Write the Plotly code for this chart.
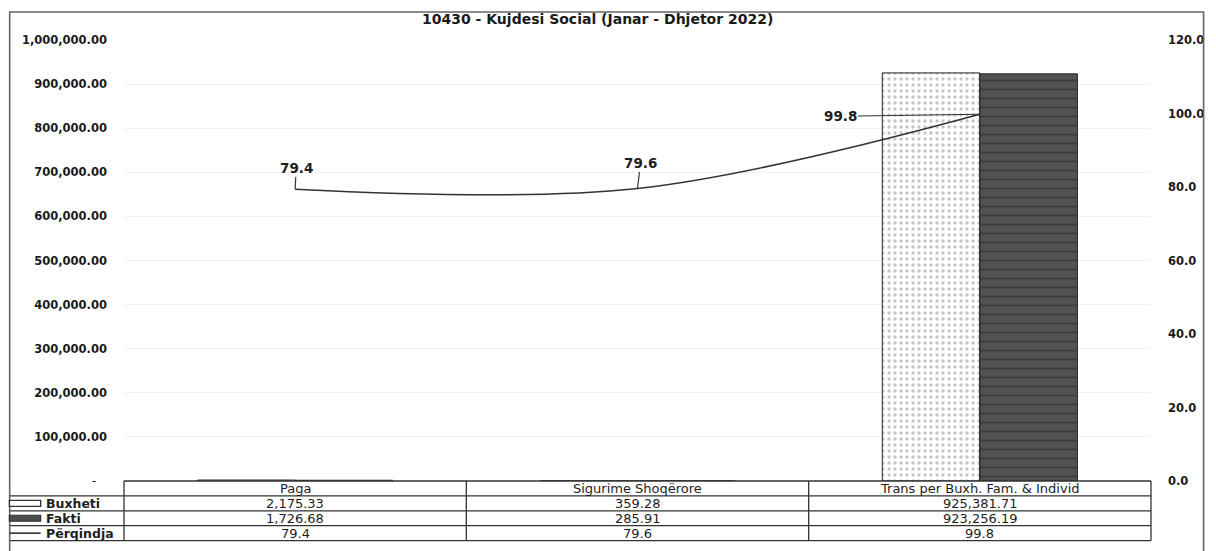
import plotly.graph_objects as go

# ---------------- data ----------------
categories = ["Paga", "Sigurime Shoqërore", "Trans per Buxh. Fam. & Individ"]
buxheti = [2175.33, 359.28, 925381.71]
fakti = [1726.68, 285.91, 923256.19]
perqindja = [79.4, 79.6, 99.8]
series_names = ["Buxheti", "Fakti", "Përqindja"]
left_ticks = [0, 100000, 200000, 300000, 400000, 500000, 600000, 700000, 800000, 900000, 1000000]
right_ticks = [0, 20, 40, 60, 80, 100, 120]
title_text = "10430 - Kujdesi Social (Janar - Dhjetor 2022)"

# ---------------- layout geometry (page body has an 8px margin) ----------------
FIG_W, FIG_H = 1208, 543
M_L, M_R, M_T, M_B = 116, 57, 32, 70
W = FIG_W - M_L - M_R
H = FIG_H - M_T - M_B
ROW_PX = 14.9
ry = ROW_PX / H


def px_x(px):
    return (px - M_L) / W


def px_y(py):
    return (FIG_H - M_B - py) / H


FONT = "DejaVu Sans"
TABLE_FONT = "DejaVu Sans"
LINE_COLOR = "#333333"
TXT = "#1e1e1e"

fig = go.Figure()

fig.add_trace(go.Bar(
    x=categories, y=buxheti, name=series_names[0],
    marker=dict(color="white", line=dict(color="#222222", width=1),
                pattern=dict(shape=".", fgcolor="#8a8a8a", bgcolor="white", size=6, solidity=0.25)),
    hoverinfo="skip",
))
fig.add_trace(go.Bar(
    x=categories, y=fakti, name=series_names[1],
    marker=dict(color="#4d4d4d", line=dict(color="#222222", width=1),
                pattern=dict(shape="-", fgcolor="#262626", bgcolor="#525252", size=9, solidity=0.2)),
    hoverinfo="skip",
))
fig.add_trace(go.Scatter(
    x=categories, y=perqindja, name=series_names[2], yaxis="y2",
    mode="lines", line=dict(color=LINE_COLOR, width=1.6, shape="spline", smoothing=1.0),
    hoverinfo="skip",
))

# data labels with leader lines
label_offsets = [(1, -21), (3, -25), (-139, 2)]
annotations = []
for c, v, (ax, ay) in zip(categories, perqindja, label_offsets):
    annotations.append(dict(
        x=c, y=v, xref="x", yref="y2", text=f"<b>{v:.1f}</b>",
        showarrow=True, arrowhead=0, arrowwidth=1.2, arrowcolor=LINE_COLOR,
        ax=ax, ay=ay, font=dict(family=FONT, size=13.5, color=TXT),
        standoff=0, borderpad=0,
    ))

# title
annotations.append(dict(
    x=px_x(593), y=px_y(11), xref="paper", yref="paper", text=f"<b>{title_text}</b>",
    showarrow=False, font=dict(family=FONT, size=14, color="#1a1a1a"),
    xanchor="center", yanchor="middle",
))

shapes = []
n = len(categories)
table_rows = 4
for r in range(table_rows + 1):
    y = -r * ry
    x0 = 0 if r == 0 else px_x(0)
    shapes.append(dict(type="line", xref="paper", yref="paper", x0=x0, x1=1, y0=y, y1=y,
                       line=dict(color="#333333", width=1.3)))
shapes.append(dict(type="line", xref="paper", yref="paper", x0=0, x1=0, y0=0, y1=-table_rows * ry,
                   line=dict(color="#333333", width=1.3)))
shapes.append(dict(type="line", xref="paper", yref="paper", x0=1, x1=1, y0=0, y1=-table_rows * ry,
                   line=dict(color="#333333", width=1.3)))
for i in range(1, n):
    xb = i / n
    shapes.append(dict(type="line", xref="paper", yref="paper", x0=xb, x1=xb, y0=0, y1=-table_rows * ry,
                       line=dict(color="#333333", width=1.3)))

# outer chart border
shapes.append(dict(type="rect", xref="paper", yref="paper", x0=px_x(0.8), x1=px_x(1204),
                   y0=px_y(4), y1=px_y(600), line=dict(color="#666666", width=1.6),
                   fillcolor="rgba(0,0,0,0)", layer="above"))

# table header + values
rows = [buxheti, fakti, perqindja]
fmts = ["{:,.2f}", "{:,.2f}", "{:.1f}"]
for i, c in enumerate(categories):
    xc = (i + 0.5) / n
    annotations.append(dict(x=xc, y=-0.5 * ry, xref="paper", yref="paper", text=c, showarrow=False,
                            font=dict(family=TABLE_FONT, size=13, color=TXT),
                            xanchor="center", yanchor="middle"))
    for r, (vals, f) in enumerate(zip(rows, fmts)):
        annotations.append(dict(x=xc, y=-(r + 1.5) * ry, xref="paper", yref="paper", text=f.format(vals[i]),
                                showarrow=False, font=dict(family=TABLE_FONT, size=13, color=TXT),
                                xanchor="center", yanchor="middle"))

# legend keys & names in the table
kx0, kx1 = px_x(0.5), px_x(32)
for r, name in enumerate(series_names):
    yc = -(r + 1.5) * ry
    if r == 0:
        shapes.append(dict(type="rect", xref="paper", yref="paper", x0=kx0, x1=kx1,
                           y0=yc - 3 / H, y1=yc + 3 / H, fillcolor="white",
                           line=dict(color="#333333", width=1.4)))
    elif r == 1:
        shapes.append(dict(type="rect", xref="paper", yref="paper", x0=kx0, x1=kx1,
                           y0=yc - 3 / H, y1=yc + 3 / H, fillcolor="#4d4d4d",
                           line=dict(color="#333333", width=1.2)))
    else:
        shapes.append(dict(type="line", xref="paper", yref="paper", x0=kx0, x1=kx1,
                           y0=yc, y1=yc, line=dict(color=LINE_COLOR, width=1.6)))
    annotations.append(dict(x=px_x(35), y=yc, xref="paper", yref="paper", text=f"<b>{name}</b>", showarrow=False,
                            font=dict(family=TABLE_FONT, size=12.5, color=TXT),
                            xanchor="left", yanchor="middle"))

left_text = [("-\u00a0\u00a0\u00a0" if v == 0 else f"<b>{v:,.2f}</b>") for v in left_ticks]
right_text = [f"<b>{v:.1f}</b>" for v in right_ticks]

fig.update_layout(
    width=FIG_W, height=FIG_H,
    margin=dict(l=M_L, r=M_R, t=M_T, b=M_B, pad=0),
    paper_bgcolor="white", plot_bgcolor="white",
    showlegend=False,
    barmode="group", bargap=0.43, bargroupgap=0,
    xaxis=dict(type="category", showticklabels=False, showgrid=False, zeroline=False,
               showline=False, ticks=""),
    yaxis=dict(range=[0, 1000000], tickvals=left_ticks, ticktext=left_text,
               showgrid=True, gridcolor="#f1f1f1", gridwidth=1, zeroline=False, showline=False,
               ticks="", ticklabelstandoff=16,
               tickfont=dict(family=FONT, size=11.5, color="#1a1a1a")),
    yaxis2=dict(range=[0, 120], tickvals=right_ticks, ticktext=right_text, overlaying="y", side="right",
                showgrid=False, zeroline=False, showline=False, ticks="", ticklabelstandoff=16,
                tickfont=dict(family=FONT, size=11.5, color="#1a1a1a")),
    annotations=annotations,
    shapes=shapes,
)

fig.write_html("out.html")
